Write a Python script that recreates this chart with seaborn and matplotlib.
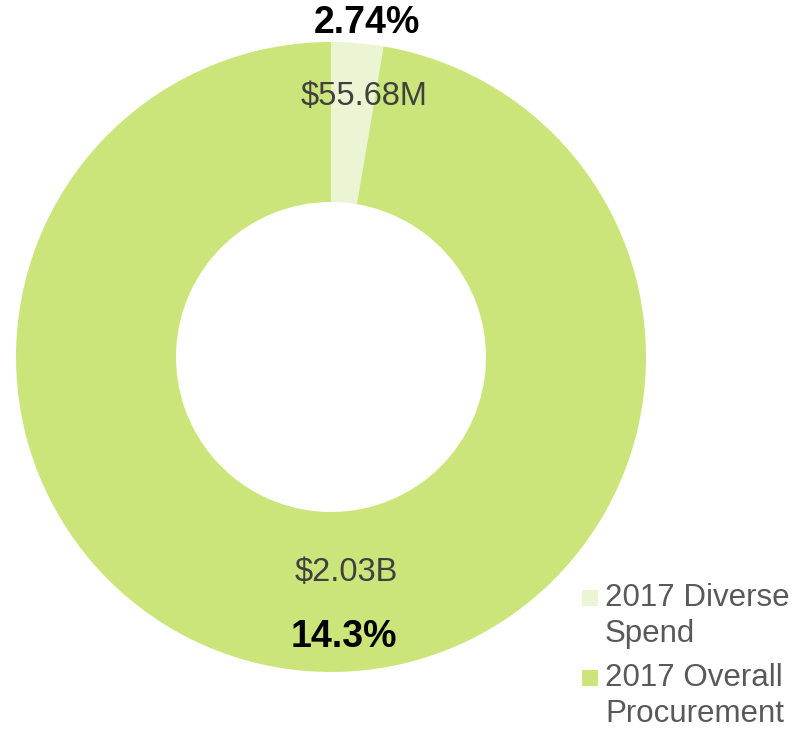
import matplotlib
matplotlib.use("Agg")
import matplotlib.pyplot as plt
from matplotlib.patches import Rectangle
import seaborn as sns

# ─── Data ───────────────────────────────────────────────────────────────────
categories = ["2017 Diverse\nSpend", "2017 Overall\nProcurement"]
spend_millions = [55.68, 2030.0]
value_labels = ["$55.68M", "$2.03B"]
pct_labels = ["2.74%", "14.3%"]
colors = ["#ebf5d3", "#cce57b"]

sns.set_theme(style="white")
plt.rcParams["font.family"] = ["Liberation Sans", "DejaVu Sans"]

W, H = 793, 730
fig = plt.figure(figsize=(W / 100, H / 100), dpi=100)
ax = fig.add_axes([0, 0, 1, 1])

cx, cy, r = 331, H - 357, 315
ax.pie(spend_millions, colors=colors, startangle=90, counterclock=False,
       center=(cx, cy), radius=r, wedgeprops=dict(width=r - 155, linewidth=0),
       frame=True)
ax.set_xlim(0, W)
ax.set_ylim(0, H)
ax.set_aspect("equal")
ax.axis("off")

# value labels
ax.text(364, H - 97, value_labels[0], ha="center", va="center",
        fontsize=23.5, color="#404040")
ax.text(346, H - 572, value_labels[1], ha="center", va="center",
        fontsize=23.5, color="#404040")
# percentage labels
ax.text(367, H - 23, pct_labels[0], ha="center", va="center",
        fontsize=27, fontweight="bold", color="black")
ax.text(344, H - 637, pct_labels[1], ha="center", va="center",
        fontsize=27, fontweight="bold", color="black")

# legend
for i, (lab, col) in enumerate(zip(categories, colors)):
    base = 606 + i * 80
    ax.add_patch(Rectangle((582, H - base), 16, 16, color=col, lw=0))
    for j, line in enumerate(lab.split("\n")):
        ax.text(605, H - (base + j * 36), line, ha="left", va="baseline",
                fontsize=22.5, color="#595959")

fig.savefig("out.png", dpi=100)
